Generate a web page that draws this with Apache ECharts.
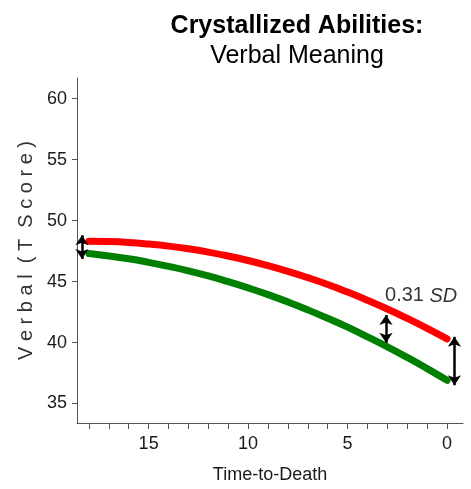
<!DOCTYPE html>
<html><head><meta charset="utf-8">
<script src="https://cdn.jsdelivr.net/npm/echarts@6/dist/echarts.min.js"></script>
<style>html,body{margin:0;padding:0;background:#fff}#c{width:471px;height:489px}</style>
</head><body><div id="c"></div>
<script>
// ---- data ----
const years = [18,17,16,15,14,13,12,11,10,9,8,7,6,5,4,3,2,1,0];
const upperValues = [48.30,48.28,48.21,48.08,47.91,47.69,47.42,47.10,46.73,46.31,45.84,45.32,44.76,44.14,43.47,42.75,41.98,41.17,40.30];
const lowerValues = [47.30,47.10,46.87,46.58,46.25,45.88,45.46,44.99,44.48,43.93,43.33,42.68,41.99,41.26,40.47,39.65,38.78,37.86,36.90];
const xTickValues = [0,1,2,3,4,5,6,7,8,9,10,11,12,13,14,15,16,17,18];
const xLabelValues = [0,5,10,15];
const yTickValues = [35,40,45,50,55,60];
const arrowX = [18.35, 3.07, -0.37];
const arrowTop = [48.8, 42.25, 40.47];
const arrowBottom = [46.85, 39.98, 36.5];
const noteValue = '0.31';
const noteUnit = 'SD';
const notePos = [3.12, 43.82];

const FONT = 'Liberation Sans';
const chart = echarts.init(document.getElementById('c'), null, {renderer: 'canvas'});
chart.setOption({
  animation: false,
  backgroundColor: '#fff',
  textStyle: {fontFamily: FONT},
  title: [
    {text: 'Crystallized Abilities:', left: 292, top: 9, textAlign: 'center',
     textStyle: {fontFamily: FONT, fontSize: 25, fontWeight: 'bold', color: '#000'}},
    {text: 'Verbal Meaning', left: 292, top: 39, textAlign: 'center',
     textStyle: {fontFamily: FONT, fontSize: 25, fontWeight: 'normal', color: '#000'}}
  ],
  grid: {left: 77, right: 8, top: 78, bottom: 66, containLabel: false},
  xAxis: {
    type: 'value', inverse: true, min: -0.8, max: 18.6,
    axisLine: {show: true, onZero: false, lineStyle: {color: '#555', width: 1}},
    axisTick: {show: true, customValues: xTickValues, length: 6, lineStyle: {color: '#555'}},
    axisLabel: {customValues: xLabelValues, fontSize: 18, color: '#1a1a1a', margin: 12, fontFamily: FONT},
    splitLine: {show: false},
    name: 'Time-to-Death', nameLocation: 'middle', nameGap: 43,
    nameTextStyle: {fontSize: 18, color: '#1a1a1a', fontFamily: FONT}
  },
  yAxis: {
    type: 'value', min: 33.4, max: 61.7, position: 'left',
    axisLine: {show: true, onZero: false, lineStyle: {color: '#555', width: 1}},
    axisTick: {show: true, customValues: yTickValues, length: 5, lineStyle: {color: '#555'}},
    axisLabel: {customValues: yTickValues, fontSize: 18, color: '#1a1a1a', margin: 10, fontFamily: FONT},
    splitLine: {show: false},
    name: 'V e r b a l  ( T  S c o r e )', nameLocation: 'middle', nameRotate: 90, nameGap: 40,
    nameTextStyle: {fontSize: 20, color: '#333', fontFamily: FONT}
  },
  series: [
    {
      type: 'line', name: 'upper', smooth: true, showSymbol: false, symbol: 'none',
      data: years.map((y, i) => [y, upperValues[i]]),
      lineStyle: {color: '#ff0000', width: 7, cap: 'round'}, z: 3,
      markLine: {
        silent: true, symbol: ['arrow', 'arrow'], symbolSize: [10, 10], z: 5,
        label: {show: false},
        lineStyle: {color: '#000', width: 2.5, type: 'solid'},
        data: arrowX.map((x, i) => [{coord: [x, arrowTop[i]]}, {coord: [x, arrowBottom[i]]}])
      }
    },
    {
      type: 'line', name: 'lower', smooth: true, showSymbol: false, symbol: 'none',
      data: years.map((y, i) => [y, lowerValues[i]]),
      lineStyle: {color: '#008000', width: 7, cap: 'round'}, z: 3
    },
    {
      type: 'scatter', symbolSize: 0, silent: true, z: 6,
      data: [notePos],
      label: {
        show: true, position: [0, 0], align: 'left', verticalAlign: 'middle',
        formatter: '{a|' + noteValue + ' }{b|' + noteUnit + '}',
        rich: {
          a: {fontSize: 20, color: '#000', fontFamily: FONT},
          b: {fontSize: 20, color: '#000', fontStyle: 'italic', fontFamily: FONT}
        }
      }
    }
  ]
});
</script>
</body></html>
